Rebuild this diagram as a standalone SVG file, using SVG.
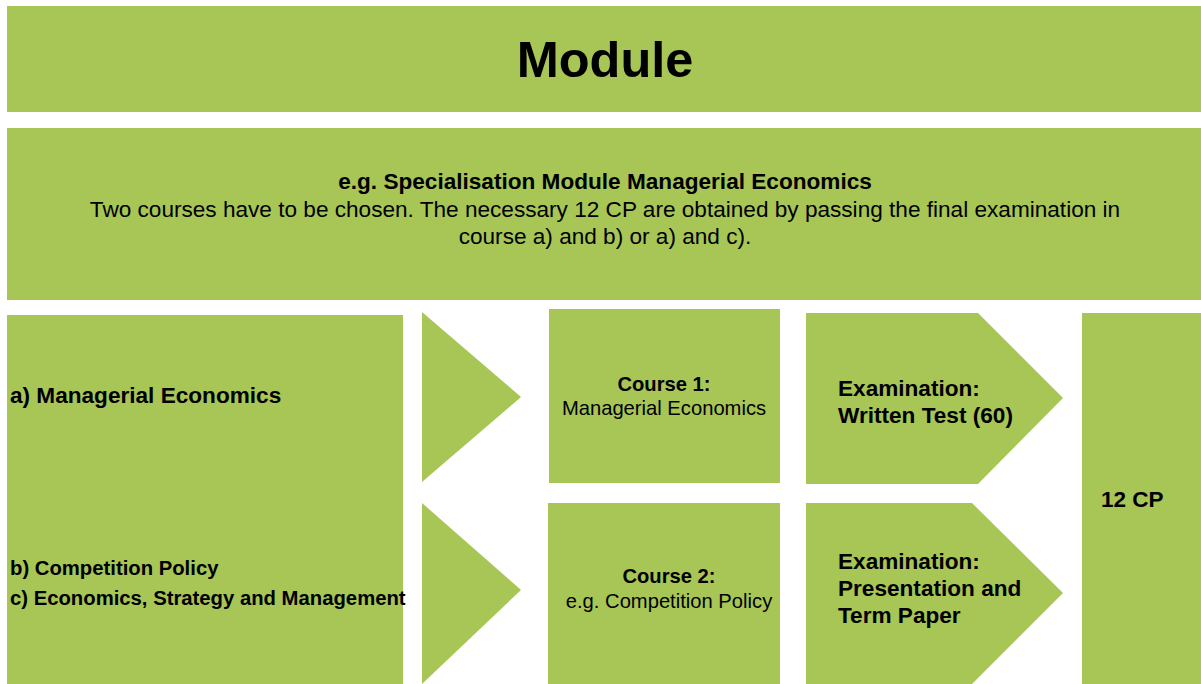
<svg xmlns="http://www.w3.org/2000/svg" width="1201" height="684" viewBox="0 0 1201 684">
<style>
.box{fill:#A8C655}
.t{font-family:"Liberation Sans",Arial,sans-serif;fill:#000}
.b{font-weight:bold}
.c{text-anchor:middle}
</style>
<rect x="0" y="0" width="1201" height="684" fill="#fff"/>
<g id="module">
<rect class="box" x="7" y="6" width="1194" height="106"/>
<text class="t b c" x="605" y="77" font-size="50.5">Module</text>
</g>
<g id="description">
<rect class="box" x="7" y="128" width="1194" height="172"/>
<text class="t b c" x="605" y="189" font-size="22.6">e.g. Specialisation Module Managerial Economics</text>
<text class="t c" x="605" y="217" font-size="22.6">Two courses have to be chosen. The necessary 12 CP are obtained by passing the final examination in</text>
<text class="t c" x="605" y="244" font-size="22.6">course a) and b) or a) and c).</text>
</g>
<g id="options">
<rect class="box" x="7" y="315" width="396" height="369"/>
<text class="t b" x="10" y="403" font-size="22.6">a) Managerial Economics</text>
<text class="t b" x="10" y="575" font-size="20.3">b) Competition Policy</text>
<text class="t b" x="10" y="605" font-size="20.3">c) Economics, Strategy and Management</text>
</g>
<g id="connectors">
<polygon class="box" points="422,312 521,397 422,482"/>
<polygon class="box" points="422,503 521,590 422,684"/>
</g>
<g id="course1">
<rect class="box" x="549" y="309" width="231" height="174"/>
<text class="t b c" x="664" y="391" font-size="20.2">Course 1:</text>
<text class="t c" x="664" y="415" font-size="20.2">Managerial Economics</text>
</g>
<g id="course2">
<rect class="box" x="548" y="503" width="232" height="181"/>
<text class="t b c" x="669" y="583" font-size="20.2">Course 2:</text>
<text class="t c" x="669" y="608" font-size="20.2">e.g. Competition Policy</text>
</g>
<g id="exam1">
<polygon class="box" points="806,313 978,313 1063,398 978,484 806,484"/>
<text class="t b" x="838" y="396" font-size="22.6">Examination:</text>
<text class="t b" x="838" y="423" font-size="22.6">Written Test (60)</text>
</g>
<g id="exam2">
<polygon class="box" points="806,503 972,503 1063,593 972,684 806,684"/>
<text class="t b" x="838" y="569" font-size="22.6">Examination:</text>
<text class="t b" x="838" y="596" font-size="22.6">Presentation and</text>
<text class="t b" x="838" y="623" font-size="22.6">Term Paper</text>
</g>
<g id="credits">
<rect class="box" x="1082" y="313" width="119" height="371"/>
<text class="t b" x="1101" y="507" font-size="22.5">12 CP</text>
</g>
</svg>
